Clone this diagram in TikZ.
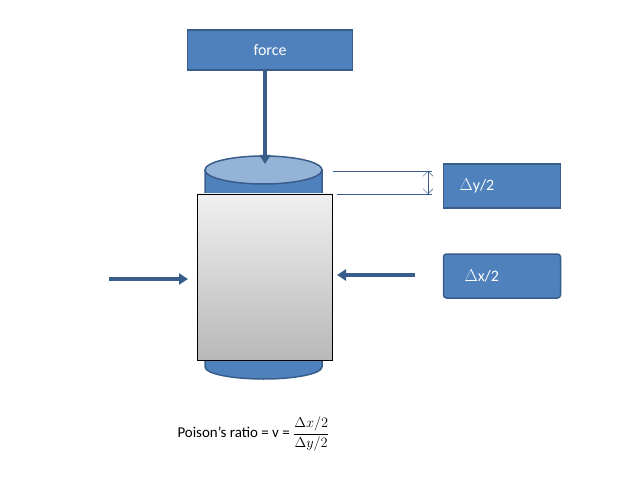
\documentclass[tikz,border=0pt]{standalone}
\usepackage{fontspec}
\setmainfont{Carlito}
\usetikzlibrary{arrows.meta,shapes.geometric}
\definecolor{boxblue}{HTML}{4F81BD}
\definecolor{edgeblue}{HTML}{385D8A}
\definecolor{lightblue}{HTML}{95B3D7}
\tikzset{
  x=1bp,y=-1bp,
  bluebox/.style={draw=edgeblue,fill=boxblue,text=white,line width=1.5bp,
    minimum width=#1,minimum height=44bp,font=\fontsize{16}{19}\selectfont},
  bluebox/.default=117bp,
  push/.style={draw=edgeblue,line width=4bp,-{Triangle[length=9bp,width=11bp]}}
}
\begin{document}
\begin{tikzpicture}
\useasboundingbox (0,0) rectangle (634,481);
% load
\node[bluebox=165bp,minimum height=40bp] (force) at (270,50) {force};
% cylinder
\fill[boxblue,draw=edgeblue,line width=1.5bp] (205,170) -- (205,367) arc[start angle=180,end angle=0,x radius=58.5,y radius=12] -- (322,170) -- cycle;
\draw[edgeblue,fill=lightblue,line width=1.5bp] (263.5,170) ellipse[x radius=58.5,y radius=14];
\coordinate (top) at (265,164);
\draw[push] (force.south -| top) -- (top);
% specimen
\shade[top color=gray!12,bottom color=gray!55,draw=black] (197,194) rectangle (332,360);
% dimension
\node[bluebox,text width=85bp] (dy) at (502,186) {$\Delta$y/2};
\node[bluebox,text width=75bp,rounded corners=3bp] (dx) at (502,276) {$\Delta$x/2};
\coordinate (a1) at (333,171); \coordinate (b1) at (432,171);
\coordinate (a2) at (337,194); \coordinate (b2) at (432,194);
\draw[edgeblue,thin] (a1) -- (b1) (a2) -- (b2);
\draw[edgeblue,thin,{Straight Barb[length=5bp,width=10bp]}-{Straight Barb[length=5bp,width=10bp]}] (428,171) -- (428,194);
% side loads
\coordinate (l0) at (109,279); \coordinate (l1) at (188,279);
\coordinate (r0) at (415,275); \coordinate (r1) at (337,275);
\draw[push] (l0) -- (l1);
\draw[push] (r0) -- (r1);
\node[anchor=west,font=\fontsize{15}{18}\selectfont] (ratio) at (174,434) {Poison’s ratio = v = $\displaystyle\frac{\Delta x/2}{\Delta y/2}$};
\end{tikzpicture}
\end{document}
